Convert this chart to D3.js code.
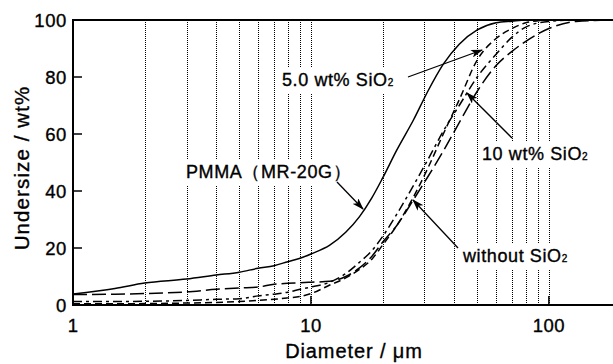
<!DOCTYPE html>
<html><head><meta charset="utf-8">
<script src="https://cdn.jsdelivr.net/npm/d3@7"></script>
<style>body{margin:0;background:#fff}svg{display:block}text{font-family:"Liberation Sans",Arial,sans-serif;fill:#000;stroke:#000;stroke-width:0.35px}</style>
</head><body>
<svg id="c" width="613" height="364"></svg>
<script>
const diam = [1, 1.5, 2, 3, 4, 5, 6, 7, 8, 9, 10, 12, 14, 16, 18, 20, 23, 27, 31, 36, 42, 50, 60, 70, 80, 100, 130, 186];
const pmma     = [3.9, 5.8, 7.7, 9.1, 10.5, 11.5, 12.9, 13.8, 15.2, 16.4, 17.9, 21, 25.5, 31, 37.5, 44.5, 54.5, 65, 75, 84.5, 91.5, 96.5, 99, 99.6, 100, 100, 100, 100];
const without  = [3.7, 3.8, 4, 4.6, 5.5, 6, 6.3, 7.3, 7.6, 7.8, 8, 8.3, 10, 13, 17, 22, 28, 37, 45, 54, 64, 75, 84, 89, 92.5, 97, 99.5, 100];
const wt10     = [1.2, 1.2, 1.3, 1.6, 2, 2.2, 3.2, 3.8, 4.5, 5.5, 6.3, 8, 11, 15, 19, 24, 32, 42, 51, 61, 70, 80, 88, 94, 97.5, 99.5, 100, 100];
const wt5      = [0.4, 0.4, 0.5, 0.7, 0.9, 1.2, 1.6, 2, 2.5, 3, 4, 7, 9.5, 12.5, 16, 21, 28, 38, 48, 60, 72, 86, 93.5, 97, 99, 100, 100, 100];
const gridVals = [2,3,4,5,6,7,8,9,10,20,30,40,50,60,70,80,90,100];
const xTicks = [1, 10, 100];
const yTicks = [0, 20, 40, 60, 80, 100];

const svg = d3.select("#c");
const L = 73, R = 613, T = 20, B = 305;
const x = d3.scaleLog().domain([1, 186]).range([L, R]);
const y = d3.scaleLinear().domain([0, 100]).range([B, T]);

// gridlines
svg.append("g").selectAll("line").data(gridVals).join("line")
  .attr("x1", d => Math.round(x(d)) + 0.5).attr("x2", d => Math.round(x(d)) + 0.5).attr("y1", T).attr("y2", B)
  .attr("stroke", "#000").attr("stroke-width", 1.3).attr("stroke-dasharray", "1,1")
  .attr("shape-rendering", "crispEdges");

svg.append("defs").append("marker").attr("id","ah").attr("viewBox","0 0 12 8")
  .attr("refX",11).attr("refY",4).attr("markerWidth",12).attr("markerHeight",8)
  .attr("markerUnits","userSpaceOnUse").attr("orient","auto")
  .append("path").attr("d","M0,0 L12,4 L0,8 L3,4 Z").attr("fill","#000");

// labels (with white backgrounds interrupting gridlines)
const labels = [
  {t:"PMMA（MR-20G）", sub:"", x:186, y:178, ax:[337,182,363,209]},
  {t:"5.0 wt% SiO", sub:"2", x:282, y:86, ax:[408,77,482,50]},
  {t:"10 wt% SiO", sub:"2", x:482, y:160, ax:[512,138,467,93]},
  {t:"without SiO", sub:"2", x:463, y:262, ax:[458,248,413,200]}
];
const lg = svg.append("g");
labels.forEach(l => {
  const tx = lg.append("text").attr("x", l.x).attr("y", l.y)
    .attr("font-size", 18).attr("letter-spacing", 0.6).text(l.t);
  if (l.sub) tx.append("tspan").attr("font-size", 10).attr("dy", 0).text(l.sub);
  const bb = tx.node().getBBox();
  lg.insert("rect", "text").attr("x", bb.x - 3).attr("y", bb.y - 3)
    .attr("width", bb.width + 6).attr("height", bb.height + 6).attr("fill", "#fff");
});

// curves
const line = d3.line().x(d => x(d[0])).y(d => y(d[1])).curve(d3.curveMonotoneX);
const series = [
  {v: pmma, dash: null},
  {v: without, dash: "14,5"},
  {v: wt10, dash: "9,4,3,4"},
  {v: wt5, dash: "7,4"}
];
svg.append("clipPath").attr("id","cp").append("rect").attr("x",L).attr("y",T-2).attr("width",R-L).attr("height",B-T+2);
svg.append("g").attr("clip-path","url(#cp)").selectAll("path").data(series).join("path")
  .attr("d", s => line(diam.map((d,i) => [d, s.v[i]])))
  .attr("fill","none").attr("stroke","#000").attr("stroke-width",1.5)
  .attr("stroke-dasharray", s => s.dash);

// arrows
labels.forEach(l => {
  svg.append("line").attr("x1", l.ax[0]).attr("y1", l.ax[1]).attr("x2", l.ax[2]).attr("y2", l.ax[3])
    .attr("stroke","#000").attr("stroke-width",1.3).attr("marker-end","url(#ah)");
});

// frame
svg.append("line").attr("x1",L).attr("x2",R).attr("y1",T).attr("y2",T).attr("stroke","#000").attr("stroke-width",2);
svg.append("line").attr("x1",L).attr("x2",R).attr("y1",B).attr("y2",B).attr("stroke","#000").attr("stroke-width",2);
svg.append("line").attr("x1",L).attr("x2",L).attr("y1",T-1).attr("y2",B+1).attr("stroke","#000").attr("stroke-width",2);

// y axis ticks
const ya = svg.append("g");
ya.selectAll("line").data(yTicks).join("line")
  .attr("x1", L).attr("x2", L+9).attr("y1", d=>y(d)).attr("y2", d=>y(d)).attr("stroke","#000").attr("stroke-width",1.5);
ya.selectAll("text").data(yTicks).join("text")
  .attr("x", 67).attr("y", d=>y(d)+6.5).attr("text-anchor","end").attr("font-size",18.5).attr("letter-spacing",0.6)
  .text(d=>d);
// x axis ticks
const xa = svg.append("g");
xa.selectAll("line").data(xTicks.slice(1)).join("line")
  .attr("x1", d=>x(d)).attr("x2", d=>x(d)).attr("y1", B).attr("y2", B-9).attr("stroke","#000").attr("stroke-width",1.5);
xa.selectAll("text").data(xTicks).join("text")
  .attr("x", d=>x(d)).attr("y", 332).attr("text-anchor","middle").attr("font-size",18.5).attr("letter-spacing",0.4)
  .text(d=>d);

// axis titles
svg.append("text").attr("x",354).attr("y",358).attr("text-anchor","middle").attr("font-size",20).attr("letter-spacing",0.9)
  .text("Diameter / μm");
svg.append("text").attr("transform","translate(29,168) rotate(-90)").attr("text-anchor","middle").attr("font-size",20.5).attr("letter-spacing",1.1)
  .text("Undersize / wt%");
</script>
</body></html>
